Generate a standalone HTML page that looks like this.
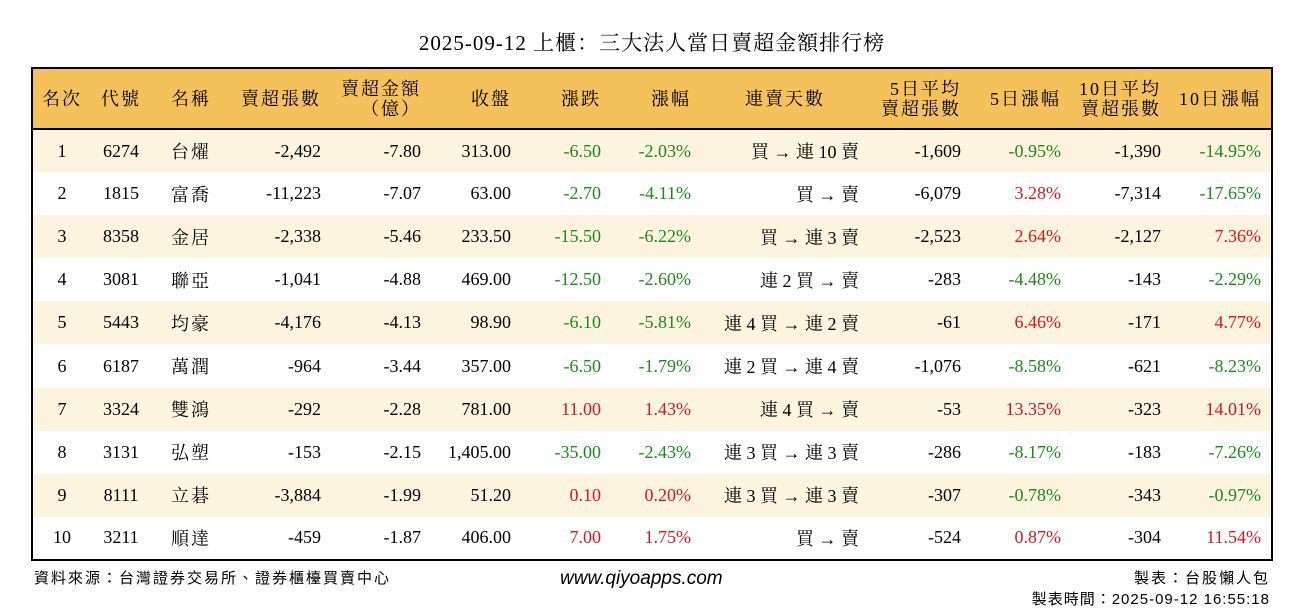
<!DOCTYPE html>
<html><head><meta charset="utf-8">
<style>
body{margin:0;width:1304px;height:612px;background:#fff;position:relative;overflow:hidden;font-family:"Liberation Serif","Noto Serif CJK SC","Noto Sans CJK TC",serif;color:#000}
#title{position:absolute;left:0;width:1304px;top:29px;text-align:center;font-size:21px;line-height:28px;letter-spacing:1px}
#tbl{position:absolute;left:31px;top:67px;width:1242px;height:494px;border:2px solid #000;border-collapse:collapse;table-layout:fixed;font-size:18px}
#tbl td,#tbl th{padding:0 10px 0 0;text-align:right;white-space:nowrap;font-weight:normal}
#tbl thead tr{height:61px;background:#f5c15a;border-bottom:2px solid #000}
#tbl th{line-height:20px;letter-spacing:2px}
#tbl tbody tr{height:43px}
#tbl tbody tr:nth-child(odd){background:#fdf4e0}
.s{letter-spacing:2px}
.c{text-align:center!important;padding:0!important}
.g{color:#1a8a1a}.r{color:#e0141e}
.foot{position:absolute;font-family:"Liberation Sans","Noto Sans CJK TC",sans-serif;font-size:15px;letter-spacing:2px}
</style></head><body>
<div id="title">2025-09-12 上櫃：三大法人當日賣超金額排行榜</div>
<table id="tbl">
<colgroup><col style="width:59px"><col style="width:60px"><col style="width:80px"><col style="width:100px"><col style="width:100px"><col style="width:90px"><col style="width:90px"><col style="width:90px"><col style="width:168px"><col style="width:102px"><col style="width:100px"><col style="width:100px"><col style="width:101px"></colgroup>
<thead><tr>
<th class="c">名次</th><th class="c">代號</th><th class="c">名稱</th><th>賣超張數</th><th>賣超金額<br>（億）</th><th>收盤</th><th>漲跌</th><th>漲幅</th><th class="c">連賣天數</th><th>5日平均<br>賣超張數</th><th>5日漲幅</th><th>10日平均<br>賣超張數</th><th>10日漲幅</th>
</tr></thead>
<tbody id="body"></tbody>
</table>
<div class="foot" style="left:34px;top:567px">資料來源：台灣證券交易所、證券櫃檯買賣中心</div>
<div class="foot" style="left:560px;top:568px;font-size:19px;font-style:italic;letter-spacing:0">www.qiyoapps.com</div>
<div class="foot" style="right:34px;top:567px">製表：台股懶人包</div>
<div class="foot" style="right:34px;top:588px;letter-spacing:1px">製表時間：2025-09-12 16:55:18</div>
<script>
const codes=["6274","1815","8358","3081","5443","6187","3324","3131","8111","3211"];
const names=["台燿","富喬","金居","聯亞","均豪","萬潤","雙鴻","弘塑","立碁","順達"];
const sellQty=["-2,492","-11,223","-2,338","-1,041","-4,176","-964","-292","-153","-3,884","-459"];
const sellAmt=["-7.80","-7.07","-5.46","-4.88","-4.13","-3.44","-2.28","-2.15","-1.99","-1.87"];
const closes=["313.00","63.00","233.50","469.00","98.90","357.00","781.00","1,405.00","51.20","406.00"];
const changes=["-6.50","-2.70","-15.50","-12.50","-6.10","-6.50","11.00","-35.00","0.10","7.00"];
const pcts=["-2.03%","-4.11%","-6.22%","-2.60%","-5.81%","-1.79%","1.43%","-2.43%","0.20%","1.75%"];
const streaks=["買 → 連 10 賣","買 → 賣","買 → 連 3 賣","連 2 買 → 賣","連 4 買 → 連 2 賣","連 2 買 → 連 4 賣","連 4 買 → 賣","連 3 買 → 連 3 賣","連 3 買 → 連 3 賣","買 → 賣"];
const avg5=["-1,609","-6,079","-2,523","-283","-61","-1,076","-53","-286","-307","-524"];
const pct5=["-0.95%","3.28%","2.64%","-4.48%","6.46%","-8.58%","13.35%","-8.17%","-0.78%","0.87%"];
const avg10=["-1,390","-7,314","-2,127","-143","-171","-621","-323","-183","-343","-304"];
const pct10=["-14.95%","-17.65%","7.36%","-2.29%","4.77%","-8.23%","14.01%","-7.26%","-0.97%","11.54%"];
const body=document.getElementById('body');
function cls(v){return v.startsWith('-')?'g':'r';}
for(let i=0;i<codes.length;i++){
  const tr=document.createElement('tr');
  
  
  const cells=[[String(i+1),'c'],[codes[i],'c'],[names[i],'c s'],[sellQty[i],''],[sellAmt[i],''],[closes[i],''],[changes[i],cls(changes[i])],[pcts[i],cls(pcts[i])],[streaks[i],''],[avg5[i],''],[pct5[i],cls(pct5[i])],[avg10[i],''],[pct10[i],cls(pct10[i])]];
  for(const [t,c] of cells){const td=document.createElement('td');td.textContent=t;if(c)td.className=c;tr.appendChild(td);}
  body.appendChild(tr);
}
</script>
</body></html>
